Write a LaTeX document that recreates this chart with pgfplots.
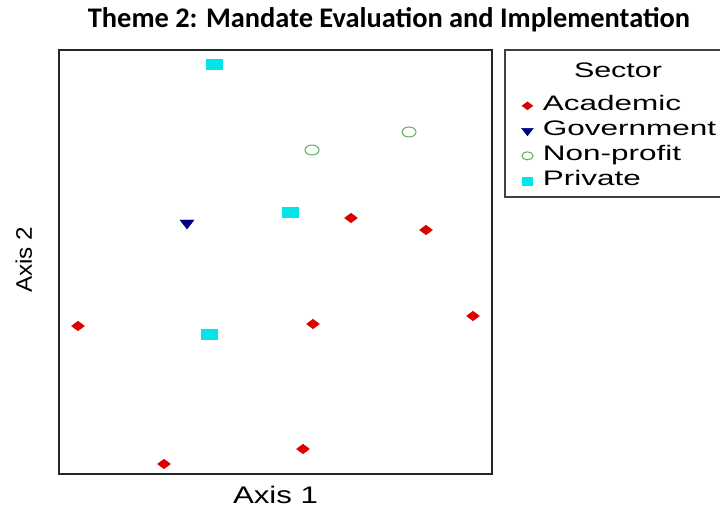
\documentclass[border=0pt]{standalone}
\usepackage{fontspec}
\setmainfont{Liberation Sans}
\newfontfamily\titlefont{Carlito}
\usepackage{graphicx}
\usepackage{pgfplots}
\pgfplotsset{compat=1.18}
\definecolor{acad}{RGB}{220,0,0}
\definecolor{gov}{RGB}{0,0,128}
\definecolor{nonp}{RGB}{90,175,90}
\definecolor{priv}{RGB}{0,230,230}
\begin{document}
\begin{tikzpicture}
\path[use as bounding box] (0,0) rectangle (720pt,510pt);
\begin{axis}[
  at={(59pt,36pt)}, anchor=south west,
  scale only axis, width=433pt, height=424pt,
  xmin=59, xmax=492, ymin=36, ymax=460,
  xtick=\empty, ytick=\empty,
  axis line style={line width=1.7pt, black!85},
  xlabel={\scalebox{1.3}[1]{Axis 1}},
  ylabel={\scalebox{1.08}[1]{Axis 2}},
  xlabel style={font=\fontsize{24}{28}\selectfont, at={(axis description cs:0.5,-0.05)}, anchor=center},
  ylabel style={font=\fontsize{22.5}{26}\selectfont, at={(axis description cs:-0.081,0.505)}, anchor=center},
  legend cell align=left,
  legend style={draw=none, fill=none, at={(axis description cs:1.061,0.903)}, anchor=north west,
    font=\fontsize{21}{25}\selectfont, row sep=0pt, column sep=7pt,
    nodes={text height=15pt, text depth=5pt, inner sep=2.5pt}},
]
\addplot[only marks, mark=diamond*, mark size=4.8pt, color=acad, mark options={xscale=1.8},
  legend image post style={mark size=4pt, mark options={xscale=1.8}}]
 coordinates {(351,292) (426,280) (78,184) (313,186) (473,194) (164,46) (303,61)};
\addlegendentry{\scalebox{1.5}[1]{Academic}}
\addplot[only marks, mark=triangle*, mark size=6pt, color=gov, mark options={rotate=180, xscale=1.35},
  legend image post style={mark size=5pt}]
 coordinates {(187,287)};
\addlegendentry{\scalebox{1.5}[1]{Government}}
\addplot[only marks, mark=o, mark size=5pt, color=nonp, mark options={xscale=1.4, line width=1pt},
  legend image post style={mark size=4pt}]
 coordinates {(312,360) (409,378)};
\addlegendentry{\scalebox{1.5}[1]{Non-profit}}
\addplot[only marks, mark=square*, mark size=5pt, color=priv, mark options={xscale=1.6},
  legend image post style={mark size=4pt, mark options={xscale=1.3}}]
 coordinates {(214,446) (290,298) (209,176)};
\addlegendentry{\scalebox{1.5}[1]{Private}}
\end{axis}
\draw[line width=1.3pt, black!75] (505pt,313pt) rectangle (740pt,460pt);
\node[font=\fontsize{21}{25}\selectfont, anchor=center] at (618pt,440pt) {\scalebox{1.45}[1]{Sector}};
\node[font=\titlefont\bfseries\fontsize{28.4}{32}\selectfont, anchor=base] at (389pt,482pt) {Theme 2: Mandate Evaluation and Implementation};
\end{tikzpicture}
\end{document}
